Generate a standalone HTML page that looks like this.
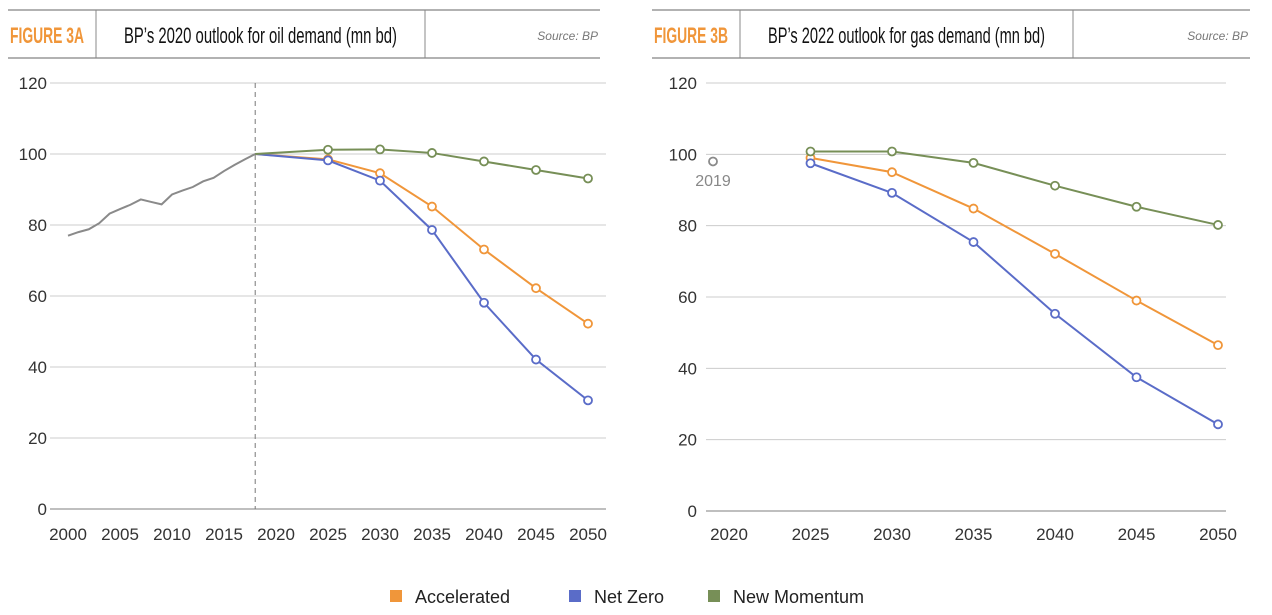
<!DOCTYPE html>
<html><head><meta charset="utf-8"><style>
body{margin:0;background:#fff;width:1272px;height:610px;overflow:hidden;font-family:"Liberation Sans",sans-serif}
svg text{font-family:"Liberation Sans",sans-serif}
</style></head><body>
<svg id="s" width="1272" height="610" xmlns="http://www.w3.org/2000/svg"></svg>
<script>
const s=document.getElementById('s');let h='';
const OR='#f0963a',BL='#5a6cc8',GR='#778f57',GY='#8a8a8a';
function hdr(x0,x1,d1,d2,fig,title){
 h+=`<line x1="${x0}" y1="10" x2="${x1}" y2="10" stroke="#999" stroke-width="1.5"/><line x1="${x0}" y1="58" x2="${x1}" y2="58" stroke="#999" stroke-width="1.5"/>`;
 h+=`<line x1="${d1}" y1="10" x2="${d1}" y2="58" stroke="#888"/><line x1="${d2}" y1="10" x2="${d2}" y2="58" stroke="#888"/>`;
 h+=`<text x="${x0+2}" y="43" font-size="22" font-weight="bold" fill="${OR}" textLength="${d1-x0-14}" lengthAdjust="spacingAndGlyphs">${fig}</text>`;
 h+=`<text x="${(d1+d2)/2}" y="43" font-size="22" text-anchor="middle" fill="#111" textLength="${d2-d1-56}" lengthAdjust="spacingAndGlyphs">${title}</text>`;
 h+=`<text x="${x1-2}" y="40" font-size="12" font-style="italic" fill="#777" text-anchor="end">Source: BP</text>`;
}
hdr(8,600,96,425,'FIGURE 3A','BP’s 2020 outlook for oil demand (mn bd)');
hdr(652,1250,740,1073,'FIGURE 3B','BP’s 2022 outlook for gas demand (mn bd)');
function chart(gx0,gx1,y0,y120,ylx,xf,years,xlabY){
 const yf=v=>y0+(y120-y0)*v/120;
 for(let v=0;v<=120;v+=20){const y=yf(v);
  h+=`<line x1="${gx0}" y1="${y}" x2="${gx1}" y2="${y}" stroke="${v?'#ccc':'#aaa'}" stroke-width="${v?1:1.5}"/>`;
  h+=`<text x="${ylx}" y="${y+6}" font-size="17" fill="#333" text-anchor="end">${v}</text>`;}
 years.forEach(yr=>h+=`<text x="${xf(yr)}" y="${xlabY}" font-size="17" fill="#333" text-anchor="middle">${yr}</text>`);
 return yf;
}
function series(pts,col,mark,xf,yf,startNoMark){
 h+=`<polyline fill="none" stroke="${col}" stroke-width="2" points="${pts.map(p=>xf(p[0])+','+yf(p[1])).join(' ')}"/>`;
 if(mark)pts.forEach((p,i)=>{if(startNoMark&&i==0)return;h+=`<circle cx="${xf(p[0])}" cy="${yf(p[1])}" r="4" fill="#fff" stroke="${col}" stroke-width="1.8"/>`});
}
let xfA=y=>68+(y-2000)*10.4;
let yfA=chart(50,606,509,83,47,xfA,[2000,2005,2010,2015,2020,2025,2030,2035,2040,2045,2050],540);
h+=`<line x1="${xfA(2018)}" y1="83" x2="${xfA(2018)}" y2="509" stroke="#777" stroke-dasharray="5,4"/>`;
const hist=[77,78,78.8,80.5,83.2,84.5,85.7,87.2,86.5,85.8,88.6,89.7,90.7,92.3,93.3,95.2,96.9,98.5,100].map((v,i)=>[2000+i,v]);
series(hist,GY,false,xfA,yfA);
const yrs=[2025,2030,2035,2040,2045,2050];
const z=(a)=>[[2018,100]].concat(a.map((v,i)=>[yrs[i],v]));
series(z([98.5,94.6,85.2,73.1,62.2,52.2]),OR,true,xfA,yfA,1);
series(z([98.2,92.5,78.6,58.1,42.1,30.6]),BL,true,xfA,yfA,1);
series(z([101.2,101.3,100.3,97.9,95.5,93.1]),GR,true,xfA,yfA,1);
let xfB=y=>729+(y-2020)*16.3;
let yfB=chart(706,1226,511,83,697,xfB,[2020,2025,2030,2035,2040,2045,2050],540);
const m=a=>a.map((v,i)=>[yrs[i],v]);
series(m([99,95,84.8,72.1,59,46.5]),OR,true,xfB,yfB);
series(m([97.5,89.2,75.4,55.3,37.5,24.3]),BL,true,xfB,yfB);
series(m([100.8,100.8,97.6,91.2,85.3,80.2]),GR,true,xfB,yfB);
h+=`<circle cx="713" cy="${yfB(98)}" r="4" fill="#fff" stroke="${GY}" stroke-width="1.8"/><text x="713" y="186" font-size="16" fill="#888" text-anchor="middle">2019</text>`;
[[396,OR,'Accelerated'],[575,BL,'Net Zero'],[714,GR,'New Momentum']].forEach(l=>{
 h+=`<rect x="${l[0]-6}" y="590" width="12" height="12" fill="${l[1]}"/><text x="${l[0]+19}" y="603" font-size="18" fill="#222">${l[2]}</text>`;});
s.innerHTML=h;
</script>
</body></html>
